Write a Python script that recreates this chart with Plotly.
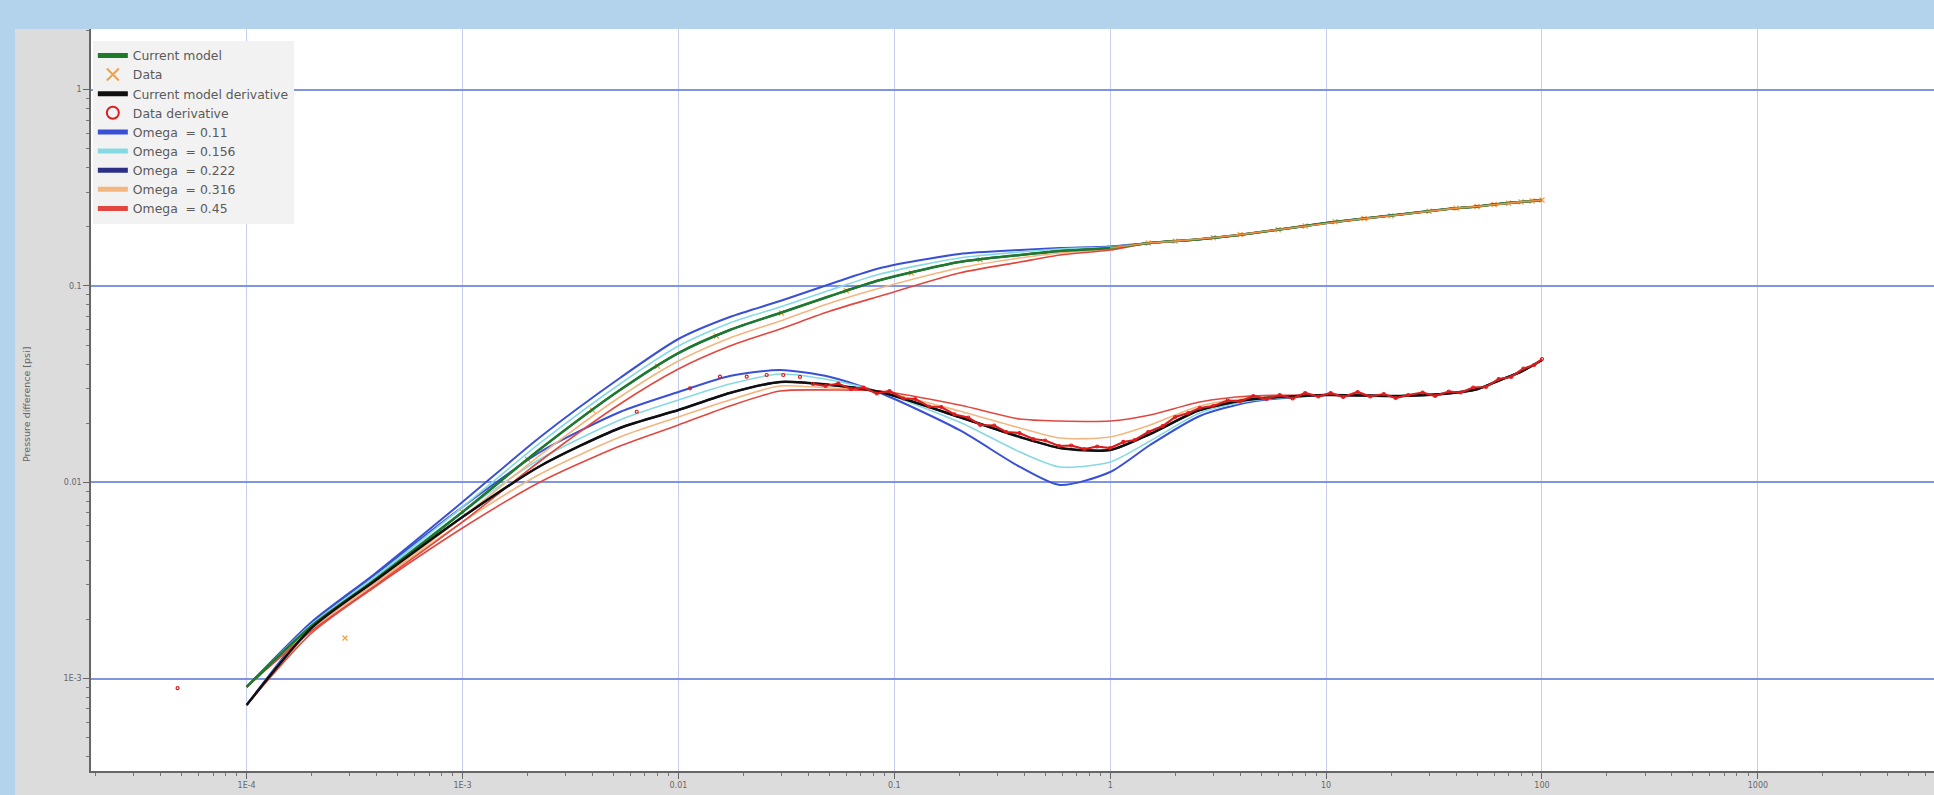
import plotly.graph_objects as go

# ---------------- data ----------------
t_model = [1e-4, 2e-4, 3.86e-4, 1e-3, 2.29e-3, 5.36e-3, 0.01, 0.0173, 0.0296, 0.0505,
           0.0861, 0.2, 0.382, 0.585, 1.0, 1.53, 2.6, 4.44, 10, 22,
           37.5, 50, 64, 80, 100]

p_tail = [0.1656, 0.1729, 0.1850, 0.2092, 0.2312, 0.2472, 0.2539, 0.2621, 0.2680, 0.2741]
p_w011 = [0.000906, 0.001941, 0.003369, 0.007931, 0.017, 0.03397, 0.05367, 0.06946, 0.08383, 0.1023,
          0.1234, 0.1455, 0.1525, 0.1561, 0.1588] + p_tail
p_w0156 = [0.000906, 0.001896, 0.003253, 0.007481, 0.01585, 0.03166, 0.04943, 0.06476, 0.07812, 0.09536,
           0.115, 0.1388, 0.1489, 0.1543, 0.1579] + p_tail
p_w0222 = [0.000906, 0.001852, 0.003141, 0.007055, 0.01477, 0.02951, 0.04553, 0.05966, 0.07282, 0.08889,
           0.1072, 0.1324, 0.1438, 0.1507, 0.1561] + p_tail
p_w0316 = [0.000906, 0.00181, 0.003032, 0.006652, 0.01376, 0.02718, 0.04146, 0.05431, 0.06629, 0.08187,
           0.09763, 0.1234, 0.1388, 0.1472, 0.1543] + p_tail
p_w045 = [0.000906, 0.001747, 0.002927, 0.006275, 0.01283, 0.02504, 0.03775, 0.04943, 0.06036, 0.07454,
          0.08889, 0.1164, 0.1324, 0.1438, 0.1525] + p_tail

d_tail = [0.02782, 0.0275, 0.02838, 0.02975, 0.03318, 0.03656, 0.04195]
d_w011 = [0.000733, 0.001896, 0.00333, 0.007481, 0.01426, 0.0228, 0.02882, 0.03476, 0.0373, 0.03437,
          0.02848, 0.01846, 0.01196, 0.009683, 0.01128, 0.01548, 0.02175, 0.02564] + d_tail
d_w0156 = [0.000733, 0.001852, 0.003215, 0.007055, 0.01313, 0.02076, 0.02624, 0.03166, 0.03559, 0.03318,
           0.02882, 0.02027, 0.01426, 0.01196, 0.01268, 0.01622, 0.02253, 0.02594] + d_tail
d_w0222 = [0.000733, 0.00181, 0.003104, 0.006652, 0.0121, 0.0189, 0.02333, 0.02848, 0.03241, 0.03129,
           0.02882, 0.0215, 0.017, 0.01495, 0.0146, 0.01761, 0.02333, 0.02639] + d_tail
d_w0316 = [0.000733, 0.001767, 0.002997, 0.006275, 0.01102, 0.017, 0.0215, 0.02624, 0.03093, 0.03021,
           0.02899, 0.02307, 0.0189, 0.0168, 0.017, 0.01957, 0.02446, 0.02686] + d_tail
d_w045 = [0.000733, 0.001706, 0.002893, 0.005847, 0.01003, 0.0153, 0.01957, 0.02446, 0.02916, 0.02951,
          0.02916, 0.02475, 0.021, 0.02051, 0.02051, 0.02201, 0.02564, 0.0275] + d_tail

# current model (matches the omega = 0.222 case)
current_p = [0.000906, 0.001852, 0.003141, 0.007055, 0.01477, 0.02951, 0.04553, 0.05966, 0.07282, 0.08889,
             0.1072, 0.1324, 0.1438, 0.1507, 0.1561] + p_tail
current_d = [0.000733, 0.00181, 0.003104, 0.006652, 0.0121, 0.0189, 0.02333, 0.02848, 0.03241, 0.03129,
             0.02882, 0.0215, 0.017, 0.01495, 0.0146, 0.01761, 0.02333, 0.02639] + d_tail

data_t = [2.856e-4, 5e-4, 1e-3, 2e-3, 4e-3, 8e-3, 0.015, 0.03, 0.06, 0.12, 0.25, 0.5, 1, 1.5, 2,
          3, 4, 6, 8, 11, 15, 20, 30, 40, 50, 60, 70, 80, 90, 100]
data_p = [0.001609, 0.00391, 0.007055, 0.0131, 0.02325, 0.03901, 0.05559, 0.07282, 0.09447, 0.1165,
          0.136, 0.1481, 0.1561, 0.1655, 0.1692, 0.1759, 0.1826, 0.1934, 0.202, 0.2123,
          0.2204, 0.2279, 0.2403, 0.2492, 0.2539, 0.26, 0.264, 0.268, 0.2709, 0.2741]

dd_t = [4.79e-5, 6.41e-3, 0.01132, 0.01558, 0.02072, 0.02564, 0.0306, 0.03657, 0.042, 0.048,
        0.055, 0.063, 0.072, 0.083, 0.095, 0.11, 0.125, 0.145, 0.165, 0.19,
        0.22, 0.25, 0.29, 0.33, 0.38, 0.44, 0.5, 0.58, 0.66, 0.76,
        0.87, 1.0, 1.15, 1.3, 1.5, 1.75, 2.0, 2.3, 2.6, 3.0,
        3.5, 4.0, 4.6, 5.3, 6.1, 7.0, 8.0, 9.2, 10.5, 12,
        14, 16, 18.5, 21, 24, 28, 32, 37, 42, 48,
        55, 63, 72, 82, 92, 100]
dd_p = [8.93e-4, 0.02287, 0.03011, 0.03449, 0.03449, 0.03518, 0.03518, 0.03438, 0.03166, 0.03093,
        0.03184, 0.02986, 0.03039, 0.02832, 0.02916, 0.02671, 0.02655, 0.02432, 0.02417, 0.02215,
        0.02137, 0.01957, 0.01946, 0.01803, 0.01782, 0.01661, 0.01632, 0.0153, 0.01539, 0.01477,
        0.01521, 0.01494, 0.01604, 0.01641, 0.01803, 0.01934, 0.0215, 0.02253, 0.02389, 0.02446,
        0.02609, 0.02579, 0.0275, 0.02655, 0.02782, 0.02671, 0.02848, 0.02734, 0.02848, 0.02718,
        0.02882, 0.02734, 0.02815, 0.02686, 0.02782, 0.02865, 0.0275, 0.02899, 0.02865, 0.03039,
        0.03057, 0.03357, 0.03437, 0.03797, 0.03956, 0.04245]

omega_labels = ["Omega\u00a0\u00a0= 0.11", "Omega\u00a0\u00a0= 0.156", "Omega\u00a0\u00a0= 0.222",
                "Omega\u00a0\u00a0= 0.316", "Omega\u00a0\u00a0= 0.45"]
omega_colors = ["#3a50d4", "#86d9e2", "#2c2f86", "#f3b680", "#e2473f"]
omega_widths = [2.0, 1.6, 2.0, 1.6, 1.6]
omega_p = [p_w011, p_w0156, p_w0222, p_w0316, p_w045]
omega_d = [d_w011, d_w0156, d_w0222, d_w0316, d_w045]

x_tick_vals = [1e-4, 1e-3, 1e-2, 1e-1, 1, 10, 100, 1000]
x_tick_text = ["1E-4", "1E-3", "0.01", "0.1", "1", "10", "100", "1000"]
y_tick_vals = [1e-3, 1e-2, 1e-1, 1]
y_tick_text = ["1E-3", "0.01", "0.1", "1"]

# ---------------- figure ----------------
fig = go.Figure()
SPL = dict(shape="spline", smoothing=0.7)

# data (pressure) markers drawn first, mostly hidden under the model curves
fig.add_trace(go.Scatter(x=data_t, y=data_p, mode="markers", name="Data", legendgroup="data", legendrank=2,
                         marker=dict(symbol="x-thin", size=5, color="#f5a040",
                                     line=dict(color="#f5a040", width=1.3))))

for i, (lab, col, w, pp, dp) in enumerate(zip(omega_labels, omega_colors, omega_widths, omega_p, omega_d)):
    fig.add_trace(go.Scatter(x=t_model, y=pp, mode="lines", name=lab, legendgroup=lab,
                             legendrank=5 + i, line=dict(color=col, width=w, **SPL)))
    fig.add_trace(go.Scatter(x=t_model, y=dp, mode="lines", name=lab, legendgroup=lab, showlegend=False,
                             line=dict(color=col, width=w, **SPL)))

fig.add_trace(go.Scatter(x=t_model, y=current_p, mode="lines", name="Current model", legendrank=1,
                         line=dict(color="#1d7a2c", width=2.5, **SPL)))
fig.add_trace(go.Scatter(x=t_model, y=current_d, mode="lines", name="Current model derivative", legendrank=3,
                         line=dict(color="#101010", width=2.5, **SPL)))

# dense late-time data appear as a continuous orange band
fig.add_trace(go.Scatter(x=data_t[12:], y=data_p[12:], mode="lines", showlegend=False, legendgroup="data",
                         line=dict(color="#ee8f45", width=1.6)))
# data derivative
fig.add_trace(go.Scatter(x=dd_t[8:], y=dd_p[8:], mode="lines", showlegend=False, legendgroup="dd",
                         line=dict(color="#d81e1e", width=2.2)))
fig.add_trace(go.Scatter(x=dd_t, y=dd_p, mode="markers", name="Data derivative", legendgroup="dd", legendrank=4,
                         marker=dict(symbol="circle-open", size=3, color="#e01b1b",
                                     line=dict(color="#e01b1b", width=1.2))))

minor_x = [m * 10 ** e for e in range(-5, 4) for m in range(2, 10)]
minor_y = [m * 10 ** e for e in range(-4, 1) for m in range(2, 10)]

fig.update_layout(
    width=1934, height=795,
    margin=dict(l=91, r=0, t=29, b=24, pad=0),
    paper_bgcolor="#dcdcdc", plot_bgcolor="#ffffff",
    font=dict(family="DejaVu Sans, Open Sans, sans-serif", color="#555555"),
    hovermode=False,
    legend=dict(x=0.001, y=0.984, xanchor="left", yanchor="top",
                bgcolor="#f2f2f2", borderwidth=0, itemsizing="constant", itemwidth=30,
                font=dict(family="DejaVu Sans", size=12.4, color="#5a5a5a"), tracegroupgap=0),
    xaxis=dict(type="log", range=[-4.7207, 3.8157], tickvals=x_tick_vals, ticktext=x_tick_text,
               showgrid=True, gridcolor="#c7cdf0", gridwidth=1, zeroline=False,
               ticks="outside", ticklen=6, tickwidth=1, tickcolor="#666666",
               showline=True, linecolor="#666666", linewidth=1.5,
               tickfont=dict(size=8, color="#666666"),
               minor=dict(tickvals=minor_x, ticks="outside", ticklen=3, tickcolor="#777777", showgrid=False)),
    yaxis=dict(type="log", range=[-3.471, 0.309], tickvals=y_tick_vals, ticktext=y_tick_text,
               showgrid=True, gridcolor="#8194e2", gridwidth=2, zeroline=False,
               ticks="outside", ticklen=6, tickwidth=1, tickcolor="#666666",
               showline=True, linecolor="#666666", linewidth=1.5,
               tickfont=dict(size=8, color="#666666"),
               minor=dict(tickvals=minor_y, ticks="outside", ticklen=3, tickcolor="#777777", showgrid=False)),
    shapes=[
        dict(type="rect", xref="paper", yref="paper", x0=-0.06, x1=1.01, y0=1.0, y1=1.06,
             fillcolor="#b3d3ed", line=dict(width=0), layer="above"),
        dict(type="rect", xref="paper", yref="paper", x0=-0.06, x1=-0.04124, y0=-0.06, y1=1.06,
             fillcolor="#b3d3ed", line=dict(width=0), layer="above"),
    ],
    annotations=[
        dict(text="Pressure difference [psi]", xref="paper", yref="paper", x=-0.0353, y=0.4946,
             textangle=-90, showarrow=False, xanchor="center", yanchor="middle",
             font=dict(size=9.5, color="#666666")),
    ],
)

fig.write_html("out.html", config={"displayModeBar": False},
               post_script="document.body.style.margin='0';document.body.style.overflow='hidden';"
                           "document.documentElement.style.background='#b3d3ed';")
